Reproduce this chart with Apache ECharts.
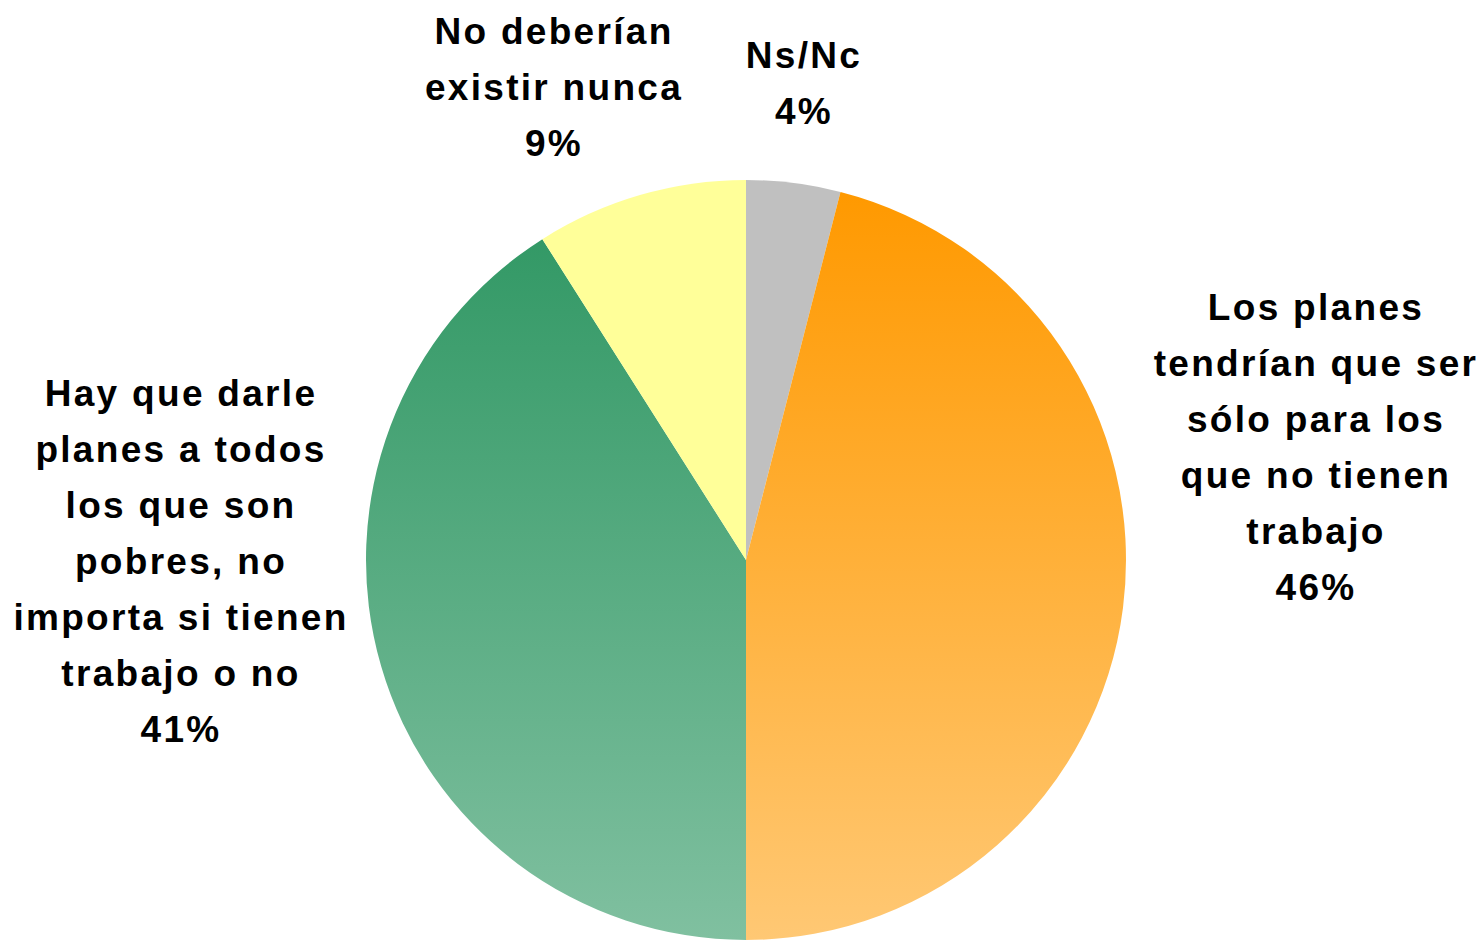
<!DOCTYPE html>
<html>
<head>
<meta charset="utf-8">
<title>Planes sociales</title>
<script src="https://cdn.jsdelivr.net/npm/echarts@6/dist/echarts.min.js"></script>
<style>
  html, body { margin: 0; padding: 0; background: #fff; }
  #chart { width: 1484px; height: 940px; }
  /* the original labels are tracked a bit wider than plain Arial */
  #chart svg text { letter-spacing: 2.3px; }
</style>
</head>
<body>
<div id="chart"></div>
<script>
// slices, clockwise from 12 o'clock
const categories = [
  'Ns/Nc',
  'Los planes\ntendrían que ser\nsólo para los\nque no tienen\ntrabajo',
  'Hay que darle\nplanes a todos\nlos que son\npobres, no\nimporta si tienen\ntrabajo o no',
  'No deberían\nexistir nunca'
]
const values = [4, 46, 41, 9]

// [top, bottom] of each slice's vertical gradient
const colors = [
  ['#C0C0C0', '#C0C0C0'],
  ['#FF9900', '#FFC874'],
  ['#339966', '#80C0A0'],
  ['#FFFF99', '#FFFF99']
]
// label block centres in px
const labelPos = [[804, 83], [1316, 447], [181, 561], [554, 87]]

const chart = echarts.init(document.getElementById('chart'), null, { renderer: 'svg' })

const grad = (c) => new echarts.graphic.LinearGradient(0, 0, 0, 1, [
  { offset: 0, color: c[0] },
  { offset: 1, color: c[1] }
])

chart.setOption({
  animation: false,
  series: [{
    type: 'pie',
    center: [746, 560],
    radius: 380,
    startAngle: 90,
    clockwise: true,
    labelLine: { show: false },
    label: {
      show: true,
      position: 'outside',
      formatter: (p) => p.name + '\n' + p.value + '%',
      color: '#000',
      fontFamily: '"Liberation Sans", Arial, sans-serif',
      fontWeight: 'bold',
      fontSize: 37,
      lineHeight: 56,
      align: 'center'
    },
    labelLayout: (params) => ({
      x: labelPos[params.dataIndex][0],
      y: labelPos[params.dataIndex][1],
      align: 'center',
      verticalAlign: 'middle'
    }),
    data: categories.map((name, i) => ({
      name,
      value: values[i],
      itemStyle: { color: grad(colors[i]), borderWidth: 0 }
    }))
  }]
})
</script>
</body>
</html>
